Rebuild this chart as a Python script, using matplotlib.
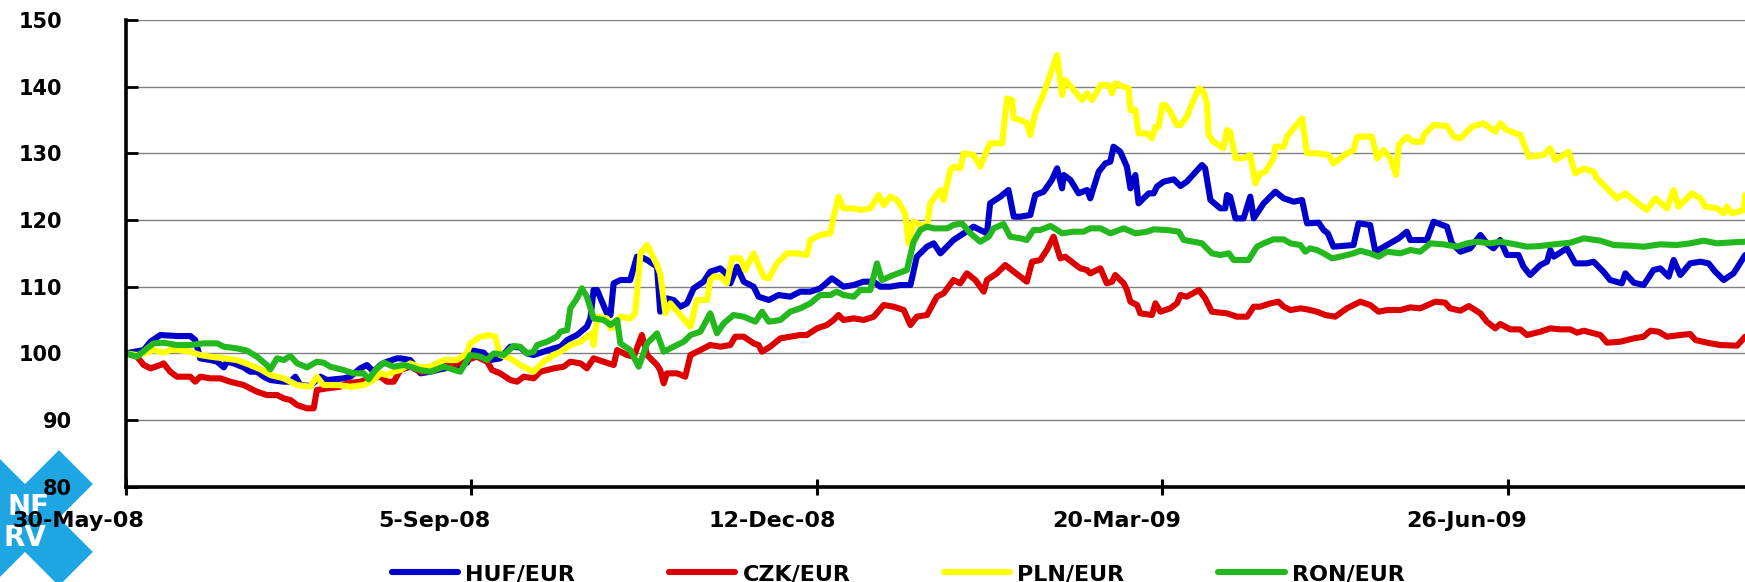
import numpy as np
import pandas as pd
import matplotlib
matplotlib.use("Agg")
import matplotlib.pyplot as plt
from matplotlib.transforms import ScaledTranslation
from matplotlib.patches import Polygon

# ---------------- data (day offset from 30-May-2008, index value) ----------------
start_date = "2008-05-30"
end_offset_days = 459.35

huf_points = [
    (0, 100), (5.1, 100.5), (7.0, 101.75), (9.8, 102.75), (14.5, 102.6), (18.3, 102.6), (19.7, 102), (21.1, 99.25),
    (24.0, 99), (25.9, 98.75), (27.8, 97.9), (28.7, 98.75), (30.6, 98.5), (33.4, 97.9), (35.3, 97.25), (37.2, 97.25),
    (39.1, 96.5), (41.0, 96), (44.8, 95.75), (46.7, 95.75), (48.1, 96.5), (49.5, 95.25), (52.3, 95.1), (55.2, 96.5),
    (57.1, 96), (61.8, 96.25), (63.7, 96.5), (66.5, 97.75), (68.4, 98.25), (70.3, 97.25), (72.2, 98.25), (74.1, 98.75),
    (76.9, 99.25), (77.9, 99.25), (80.7, 99), (83.6, 97), (86.4, 97.25), (89.2, 97.6), (93.0, 98), (96.8, 98.6),
    (98.7, 100.4), (101.5, 100.1), (103.4, 99), (106.2, 99.25), (109.1, 101), (111.9, 100.9), (113.8, 100),
    (115.7, 99.75), (118.5, 100.25), (121.4, 100.75), (123.3, 101), (125.2, 102), (128.0, 102.75), (130.8, 104),
    (131.8, 105.25), (132.7, 109.5), (133.7, 109.5), (136.5, 106), (137.5, 105.75), (138.4, 110.5), (140.3, 111),
    (143.1, 111), (145.0, 114.5), (146.0, 114.5), (147.9, 114), (150.7, 113), (151.6, 106.25), (153.5, 108.25),
    (155.4, 108), (157.3, 107), (159.2, 107.5), (161.1, 109.75), (163.9, 110.75), (165.8, 112.25), (168.7, 112.75),
    (170.1, 112), (171.5, 110.5), (173.4, 113), (175.3, 110.75), (178.1, 110), (179.5, 108.5), (182.4, 108),
    (185.2, 108.75), (188.5, 108.5), (191.3, 109.25), (194.2, 109.25), (197.0, 109.75), (200.3, 111.25),
    (201.7, 110.75), (203.6, 110), (206.5, 110.25), (209.3, 110.75), (212.2, 110.75), (214.0, 110), (216.9, 110),
    (219.7, 110.25), (222.6, 110.25), (224.4, 114.5), (227.3, 116), (229.2, 116.5), (231.1, 115), (234.8, 117),
    (237.7, 118), (240.5, 119), (242.4, 118.5), (244.3, 118), (245.2, 122.5), (248.1, 123.5), (250.4, 124.5),
    (251.9, 120.5), (253.8, 120.5), (256.6, 120.75), (258.0, 123.75), (260.4, 124.25), (262.7, 126),
    (264.2, 127.75), (265.6, 124.75), (266.1, 126.75), (268.0, 126), (270.3, 124), (272.7, 124.5), (273.6, 123.25),
    (276.0, 127.25), (277.9, 128.5), (279.3, 128.75), (280.2, 131), (282.1, 130.25), (284.0, 128), (285.0, 124.75),
    (286.4, 126.75), (287.3, 122.5), (290.2, 124), (291.6, 124), (292.5, 125), (294.4, 125.75), (297.3, 126.1),
    (299.2, 125.1), (301.0, 125.75), (305.3, 128.25), (306.2, 127.75), (307.7, 123), (310.5, 121.75),
    (311.9, 121.75), (312.4, 123.75), (313.3, 123.5), (314.8, 120.25), (317.1, 120.25), (319.0, 123.5),
    (320.0, 120.25), (322.8, 122.5), (326.1, 124.25), (328.5, 123.25), (331.3, 122.75), (333.7, 123),
    (335.1, 119.5), (338.4, 119.6), (339.8, 118.5), (341.0, 118), (342.6, 116), (348.3, 116.25), (349.7, 119.5),
    (353.0, 119.25), (354.5, 115.25), (357.8, 116.25), (361.1, 117.25), (363.4, 118.25), (364.4, 117),
    (369.1, 117), (371.0, 119.75), (374.8, 119), (376.2, 116.5), (378.6, 115.25), (381.4, 115.75), (384.3, 117.75),
    (386.1, 116.5), (388.0, 115.75), (389.9, 117), (391.8, 114.75), (395.1, 114.75), (396.5, 113), (398.4, 111.75),
    (401.3, 113.25), (403.2, 113.75), (404.1, 115.5), (405.1, 114.5), (408.8, 115.75), (411.2, 113.5),
    (414.5, 113.5), (416.4, 113.75), (419.2, 112.25), (421.1, 111), (424.4, 110.5), (425.4, 112), (427.8, 110.6),
    (430.6, 110.25), (433.4, 112.5), (435.3, 112.75), (437.7, 111.5), (439.1, 114), (441.0, 111.75),
    (443.8, 113.5), (446.7, 113.75), (449.0, 113.5), (450.9, 112.25), (453.3, 111), (456.1, 112), (459.4, 114.75),
]

czk_points = [
    (0, 100), (3.2, 99.5), (5.1, 98.25), (7.0, 97.75), (9.8, 98.25), (10.7, 98.5), (12.6, 97.25), (14.5, 96.5),
    (18.3, 96.5), (19.7, 95.75), (21.1, 96.5), (24.0, 96.25), (26.8, 96.25), (29.6, 95.75), (33.4, 95.25),
    (35.3, 94.75), (37.2, 94.25), (40.0, 93.75), (42.9, 93.75), (44.8, 93.25), (46.7, 93), (48.6, 92.25),
    (51.4, 91.75), (53.3, 91.75), (54.2, 94.5), (57.1, 94.75), (60.8, 95), (62.7, 95.5), (66.5, 95.75),
    (69.4, 96.25), (72.2, 96.5), (74.1, 95.75), (76.0, 95.75), (77.9, 97.5), (80.7, 98), (83.5, 97.25),
    (87.3, 97.4), (91.1, 98.25), (94.9, 98.5), (96.8, 99), (99.6, 99.5), (102.5, 98.75), (103.9, 97.5),
    (106.2, 97), (109.1, 96), (111.0, 95.75), (112.9, 96.5), (115.7, 96.25), (117.6, 97.25), (121.4, 97.75),
    (124.2, 98), (126.1, 98.75), (129.0, 98.5), (130.8, 97.75), (132.7, 99.25), (135.6, 98.75), (138.4, 98.25),
    (139.4, 100.5), (142.2, 99.75), (144.1, 99.5), (146.4, 102.75), (147.9, 99.75), (150.7, 98.25), (151.6, 97.5),
    (152.6, 95.5), (153.5, 97), (156.4, 97), (158.7, 96.5), (160.2, 99.75), (163.0, 100.5), (165.8, 101.25),
    (168.7, 101), (171.5, 101.25), (172.9, 102.5), (175.3, 102.5), (178.1, 101.5), (179.5, 101.25),
    (180.5, 100.25), (182.8, 101), (185.7, 102.25), (188.5, 102.5), (191.3, 102.75), (193.2, 102.75),
    (196.1, 103.75), (198.9, 104.25), (200.8, 105), (202.2, 105.75), (203.6, 105), (206.5, 105.25), (209.3, 105),
    (212.2, 105.5), (215.0, 107.25), (217.8, 107), (220.7, 106.5), (222.6, 104.25), (224.4, 105.5),
    (227.3, 105.75), (230.1, 108.5), (232.0, 109), (234.8, 111), (236.7, 110.5), (238.6, 112), (241.0, 111),
    (243.4, 109.25), (244.3, 111), (247.1, 112), (249.5, 113.25), (251.9, 112.25), (253.8, 111.5),
    (255.6, 110.75), (257.1, 113.75), (259.4, 114), (261.3, 115.5), (263.2, 117.5), (265.1, 114.25),
    (266.5, 114.5), (268.9, 113.5), (270.8, 112.75), (272.7, 112.5), (273.6, 112), (276.5, 112.75),
    (278.3, 110.5), (279.8, 110.75), (280.7, 111.75), (283.1, 110.5), (284.0, 109.5), (285.0, 107.75),
    (286.9, 107.25), (287.8, 106), (291.1, 105.75), (292.1, 107.5), (293.5, 106.25), (296.3, 106.75),
    (298.2, 107.5), (299.2, 108.75), (301.0, 108.5), (304.4, 109.5), (306.2, 108.25), (308.1, 106.25),
    (312.4, 106), (315.2, 105.5), (318.1, 105.5), (320.0, 107), (321.8, 107), (324.7, 107.5), (327.0, 107.75),
    (328.5, 107), (330.4, 106.5), (333.2, 106.75), (335.1, 106.6), (337.9, 106.25), (340.3, 105.75),
    (343.1, 105.5), (346.4, 106.75), (350.2, 107.75), (353.0, 107.25), (355.4, 106.25), (357.8, 106.5),
    (361.6, 106.5), (364.4, 106.9), (367.2, 106.75), (371.5, 107.75), (374.3, 107.6), (375.7, 106.75),
    (378.6, 106.4), (381.0, 107.1), (384.3, 106), (386.1, 104.75), (388.5, 103.75), (389.9, 104.4),
    (392.8, 103.6), (395.6, 103.6), (397.5, 102.75), (401.3, 103.25), (404.1, 103.75), (407.0, 103.6),
    (409.8, 103.6), (411.7, 103.1), (413.6, 103.4), (418.3, 102.75), (420.2, 101.6), (424.0, 101.75),
    (427.8, 102.25), (430.6, 102.5), (432.5, 103.4), (434.8, 103.25), (437.2, 102.5), (441.0, 102.75),
    (443.8, 102.9), (445.3, 102), (448.6, 101.6), (452.3, 101.25), (457.1, 101.15), (459.4, 102.5),
]

pln_points = [
    (0, 100), (3.2, 99.75), (5.1, 100), (7.9, 100.5), (10.7, 100.1), (12.6, 100.5), (14.5, 100.5), (18.3, 100.25),
    (21.1, 99.75), (24.0, 99.5), (27.8, 99.25), (31.5, 99), (35.3, 98.25), (38.2, 97.6), (41.0, 96.75),
    (44.8, 96.25), (48.6, 95.25), (52.3, 95), (54.2, 96.5), (56.1, 95.25), (59.9, 95.25), (63.7, 95),
    (67.5, 95.25), (70.3, 96), (72.2, 97), (74.1, 96.75), (76.0, 97.25), (77.9, 97.5), (80.7, 98.5), (83.5, 97.9),
    (86.4, 98), (90.2, 99), (93.9, 99), (96.8, 100), (97.7, 101.5), (100.6, 102.5), (103.4, 102.75), (104.8, 102.5),
    (106.2, 99.75), (109.1, 99.25), (111.9, 98.25), (115.7, 97.25), (118.5, 98.75), (121.4, 99.75),
    (123.3, 100.25), (126.1, 101.25), (129.0, 101.75), (130.8, 102.5), (132.3, 103), (132.7, 101.25),
    (133.7, 105.5), (136.5, 105.25), (137.5, 103.75), (138.4, 104), (140.3, 105.5), (143.1, 105.25), (144.5, 106),
    (146.0, 115), (147.9, 116.25), (150.7, 113.25), (151.6, 112), (153.1, 106), (154.5, 107.5), (157.3, 105.75),
    (160.2, 104), (162.0, 108), (164.9, 108), (165.8, 111), (166.8, 111.5), (168.7, 111.5), (170.5, 110.5),
    (172.0, 114.25), (174.3, 114.25), (175.7, 112.5), (178.1, 115), (180.9, 111.5), (182.4, 111.25),
    (184.7, 113.5), (187.6, 115), (190.4, 115), (193.2, 114.75), (194.2, 117), (197.0, 117.75), (199.9, 118),
    (200.8, 120.5), (202.2, 123.5), (203.6, 121.75), (206.5, 121.75), (208.4, 121.5), (211.2, 121.75),
    (213.6, 123.75), (215.0, 122.25), (216.9, 123.5), (218.8, 123), (221.1, 121), (222.1, 116.5),
    (223.5, 119.75), (225.4, 119.25), (227.3, 119), (228.2, 122.5), (231.1, 124.5), (232.0, 123), (233.9, 127.5),
    (234.8, 128), (236.7, 127.75), (237.7, 130), (240.5, 129.75), (242.4, 128), (244.3, 130.5), (245.2, 131.5),
    (248.6, 131.5), (250.0, 138.25), (251.4, 138), (251.9, 135.25), (253.8, 135), (255.6, 134.5),
    (256.6, 132.75), (258.0, 136), (260.4, 139), (262.7, 142.5), (264.2, 144.75), (265.6, 138.75), (266.5, 141),
    (268.9, 139.5), (271.3, 138), (272.7, 139), (274.1, 138), (276.5, 140.25), (278.8, 140.25), (279.8, 139),
    (280.7, 140.5), (283.1, 140), (284.5, 139.75), (285.0, 136.5), (286.4, 136.5), (287.3, 133), (289.7, 133),
    (291.1, 132.25), (292.1, 134), (293.0, 134), (294.0, 137.25), (294.9, 137.25), (296.3, 136.25),
    (298.2, 134.25), (299.2, 134.25), (301.0, 135.5), (302.9, 138), (304.4, 139.75), (305.8, 139.25),
    (306.7, 137.5), (307.2, 132.75), (308.6, 131.75), (311.4, 130.75), (312.4, 133.5), (313.3, 133.25),
    (314.8, 129.25), (317.1, 129.25), (319.0, 129.75), (320.4, 125.5), (321.8, 127), (323.3, 127.25),
    (325.6, 129.25), (326.1, 131), (328.5, 131), (329.4, 132.5), (331.3, 133.75), (333.7, 135.25), (335.1, 130),
    (337.9, 130), (341.2, 129.75), (342.6, 128.5), (346.4, 130), (348.3, 130.5), (349.3, 132.5), (353.5, 132.5),
    (355.0, 129.25), (356.8, 130.5), (358.7, 129.25), (360.4, 126.75), (361.1, 131.25), (363.4, 132.5),
    (365.3, 131.75), (367.7, 131.75), (368.2, 132.75), (371.0, 134.25), (374.8, 134.1), (376.7, 132.5),
    (378.6, 132.25), (381.9, 134), (385.2, 134.5), (388.5, 133.25), (389.9, 134.5), (391.8, 133.5),
    (395.6, 132.75), (398.0, 129.5), (402.2, 129.75), (404.1, 130.75), (405.5, 129), (409.3, 130.25),
    (411.2, 127), (413.6, 127.75), (416.4, 127.25), (417.3, 126.25), (420.2, 124.75), (423.0, 123.25),
    (425.4, 124), (427.8, 123), (431.5, 121.5), (433.9, 123.25), (437.2, 121.75), (439.1, 124.5), (440.5, 122),
    (444.3, 124), (446.7, 123.25), (448.1, 122), (451.4, 121.75), (453.3, 121), (454.2, 122), (455.7, 121),
    (459.0, 121.5), (459.4, 123.75),
]

ron_points = [
    (0, 100), (3.2, 99.5), (6.0, 100.75), (7.9, 101.5), (10.7, 101.6), (14.5, 101.25), (18.3, 101.25),
    (22.1, 101.5), (25.9, 101.5), (27.8, 101), (31.5, 100.75), (34.4, 100.4), (37.2, 99.5), (40.0, 98.25),
    (41.0, 97.6), (42.9, 99.25), (44.8, 99), (46.7, 99.6), (48.6, 98.5), (51.4, 97.9), (54.2, 98.75),
    (56.1, 98.6), (58.0, 98), (61.8, 97.5), (64.6, 97), (67.5, 97), (68.9, 96.1), (70.8, 97.5), (73.2, 98.6),
    (76.0, 98), (78.8, 98.25), (80.7, 98), (83.5, 97.5), (86.4, 97.25), (90.2, 98), (94.9, 97.25), (97.7, 99.75),
    (100.6, 99.5), (102.5, 99), (104.4, 100), (107.2, 99.75), (110.0, 101.1), (111.9, 101), (113.8, 100),
    (115.7, 100.25), (116.7, 101.25), (119.5, 101.75), (122.3, 102.5), (123.3, 103.25), (125.2, 103.5),
    (126.1, 106.75), (128.0, 108.25), (129.4, 109.75), (130.8, 108.5), (132.7, 105.25), (135.6, 105),
    (137.5, 104.25), (139.4, 105), (140.3, 101.5), (143.1, 100.5), (145.5, 98), (147.9, 101.5), (150.7, 103),
    (152.6, 100.25), (155.4, 101), (158.3, 101.75), (160.2, 102.75), (163.0, 103.25), (165.8, 106),
    (167.7, 103), (169.6, 104.5), (172.4, 105.75), (175.3, 105.5), (178.6, 104.75), (180.5, 106.25),
    (182.4, 104.75), (185.7, 105), (188.5, 106.25), (191.3, 106.75), (194.2, 107.5), (197.0, 108.75),
    (199.9, 108.75), (201.7, 109.25), (203.6, 108.75), (206.5, 108.5), (208.4, 109.5), (211.2, 109.5),
    (213.1, 113.5), (214.5, 111), (217.8, 111.75), (221.6, 112.5), (223.5, 116.75), (225.4, 118.5), (227.3, 119),
    (229.2, 118.75), (233.0, 118.75), (234.8, 119.25), (237.2, 119.5), (239.6, 118), (242.4, 116.75),
    (244.8, 117.5), (246.2, 118.75), (249.0, 119.4), (250.9, 117.5), (253.8, 117.25), (255.6, 117),
    (257.5, 118.5), (259.4, 118.5), (262.3, 119.1), (264.2, 118.5), (265.6, 118), (268.9, 118.25),
    (271.7, 118.25), (273.6, 118.75), (276.5, 118.75), (279.3, 118), (283.1, 118.75), (286.4, 118),
    (289.7, 118.25), (291.6, 118.6), (295.4, 118.5), (298.7, 118.25), (300.1, 117), (302.9, 116.75),
    (305.3, 116.5), (308.1, 115), (310.5, 114.75), (312.9, 115), (314.3, 114), (318.5, 114), (320.9, 116),
    (322.8, 116.5), (325.6, 117.1), (328.5, 117.1), (330.4, 116.5), (333.2, 116.25), (334.6, 115.25),
    (336.0, 115.75), (337.9, 115.5), (339.8, 115), (342.2, 114.25), (344.5, 114.5), (348.3, 115), (350.2, 115.4),
    (353.0, 115), (355.4, 114.5), (357.8, 115.25), (361.6, 115), (364.4, 115.5), (367.2, 115.25), (370.1, 116.5),
    (373.8, 116.35), (377.6, 116), (380.5, 116.5), (383.3, 116.75), (387.1, 116.5), (389.9, 116.75),
    (393.7, 116.4), (397.5, 116), (401.3, 116.1), (405.1, 116.35), (409.8, 116.6), (413.6, 117.25),
    (418.3, 116.9), (422.1, 116.25), (426.8, 116.15), (430.6, 116), (435.3, 116.35), (440.0, 116.25),
    (443.8, 116.5), (447.6, 116.9), (451.4, 116.5), (454.2, 116.6), (459.4, 116.75),
]

series_names = ["HUF/EUR", "CZK/EUR", "PLN/EUR", "RON/EUR"]
series_colors = ["#0000CC", "#DD0000", "#FFFF00", "#22B81E"]

tick_dates = ["2008-05-30", "2008-09-05", "2008-12-12", "2009-03-20", "2009-06-26"]
tick_labels = ["30-May-08", "5-Sep-08", "12-Dec-08", "20-Mar-09", "26-Jun-09"]
y_ticks = [80, 90, 100, 110, 120, 130, 140, 150]

# ---------------- figure ----------------
W, H = 1745, 582
fig = plt.figure(figsize=(W / 100, H / 100), dpi=100)
fig.patch.set_facecolor("white")

# logo layer (pixel coordinates)
logo_ax = fig.add_axes([0, 0, 1, 1], zorder=0)
logo_ax.set_xlim(0, W)
logo_ax.set_ylim(H, 0)
logo_ax.axis("off")
c = np.array([25.0, 518.0])
L, Wd = 72.0, 24.0
for u in (np.array([1, -1]) / np.sqrt(2), np.array([1, 1]) / np.sqrt(2)):
    n = np.array([u[1], -u[0]]) * -1
    pts = [c + L * u + Wd * n, c + L * u - Wd * n, c - L * u - Wd * n, c - L * u + Wd * n]
    logo_ax.add_patch(Polygon(pts, closed=True, facecolor="#1DA6E1", edgecolor="none"))
logo_ax.text(50, 515, "NF", color="white", fontsize=20, fontweight="bold", ha="right", va="baseline",
             family="DejaVu Sans")
logo_ax.text(46, 546, "RV", color="white", fontsize=20, fontweight="bold", ha="right", va="baseline",
             family="DejaVu Sans")

left_px, right_px, top_px, bottom_px = 125.8, 1745, 20, 486.7
ax = fig.add_axes([left_px / W, 1 - bottom_px / H, (right_px - left_px) / W, (bottom_px - top_px) / H], zorder=1)
ax.patch.set_alpha(0)

start = pd.Timestamp(start_date)
all_points = [huf_points, czk_points, pln_points, ron_points]
handles = []
for pts, name, col in zip(all_points, series_names, series_colors):
    days = np.array([p[0] for p in pts])
    vals = np.array([p[1] for p in pts])
    x = start + pd.to_timedelta(days, unit="D")
    h, = ax.plot(x, vals, color=col, lw=4.4, label=name, solid_joinstyle="round", solid_capstyle="round")
    handles.append(h)

ax.set_xlim(start, start + pd.Timedelta(days=end_offset_days))
ax.set_ylim(80, 150)
ax.set_yticks(y_ticks)
ax.set_yticklabels([str(v) for v in y_ticks])
ax.set_xticks(pd.to_datetime(tick_dates))
ax.set_xticklabels(tick_labels)

ax.yaxis.grid(True, color="#808080", lw=1.0)
ax.set_axisbelow(True)

for s in ["top", "right"]:
    ax.spines[s].set_visible(False)
for s in ["left", "bottom"]:
    ax.spines[s].set_linewidth(2.6)
    ax.spines[s].set_color("black")
    ax.spines[s].set_zorder(5)

ax.tick_params(axis="y", direction="in", length=8.6, width=2.0, pad=46, labelsize=15, colors="black")
ax.tick_params(axis="x", direction="inout", length=11.5, width=2.2, pad=12, labelsize=16, colors="black")

for lab in ax.get_xticklabels() + ax.get_yticklabels():
    lab.set_fontweight("bold")
    lab.set_family("DejaVu Sans")

# per-label alignment like the original
for t in ax.yaxis.get_major_ticks():
    if len(t.label1.get_text()) == 2:
        t.label1.set_transform(t.label1.get_transform() + ScaledTranslation(0.10, 0, fig.dpi_scale_trans))
for t in ax.xaxis.get_major_ticks():
    t.label1.set_horizontalalignment("right")
    t.label1.set_transform(t.label1.get_transform() + ScaledTranslation(0.19, 0, fig.dpi_scale_trans))

leg = ax.legend(handles=handles, loc="center", bbox_to_anchor=(898 / W, 8 / H), bbox_transform=fig.transFigure,
                ncol=4, frameon=False, prop=dict(weight="bold", size=16, family="DejaVu Sans"),
                handlelength=3.0, handletextpad=0.32, columnspacing=4.2, borderpad=0, borderaxespad=0)

fig.savefig("out.png", dpi=100, facecolor="white")
